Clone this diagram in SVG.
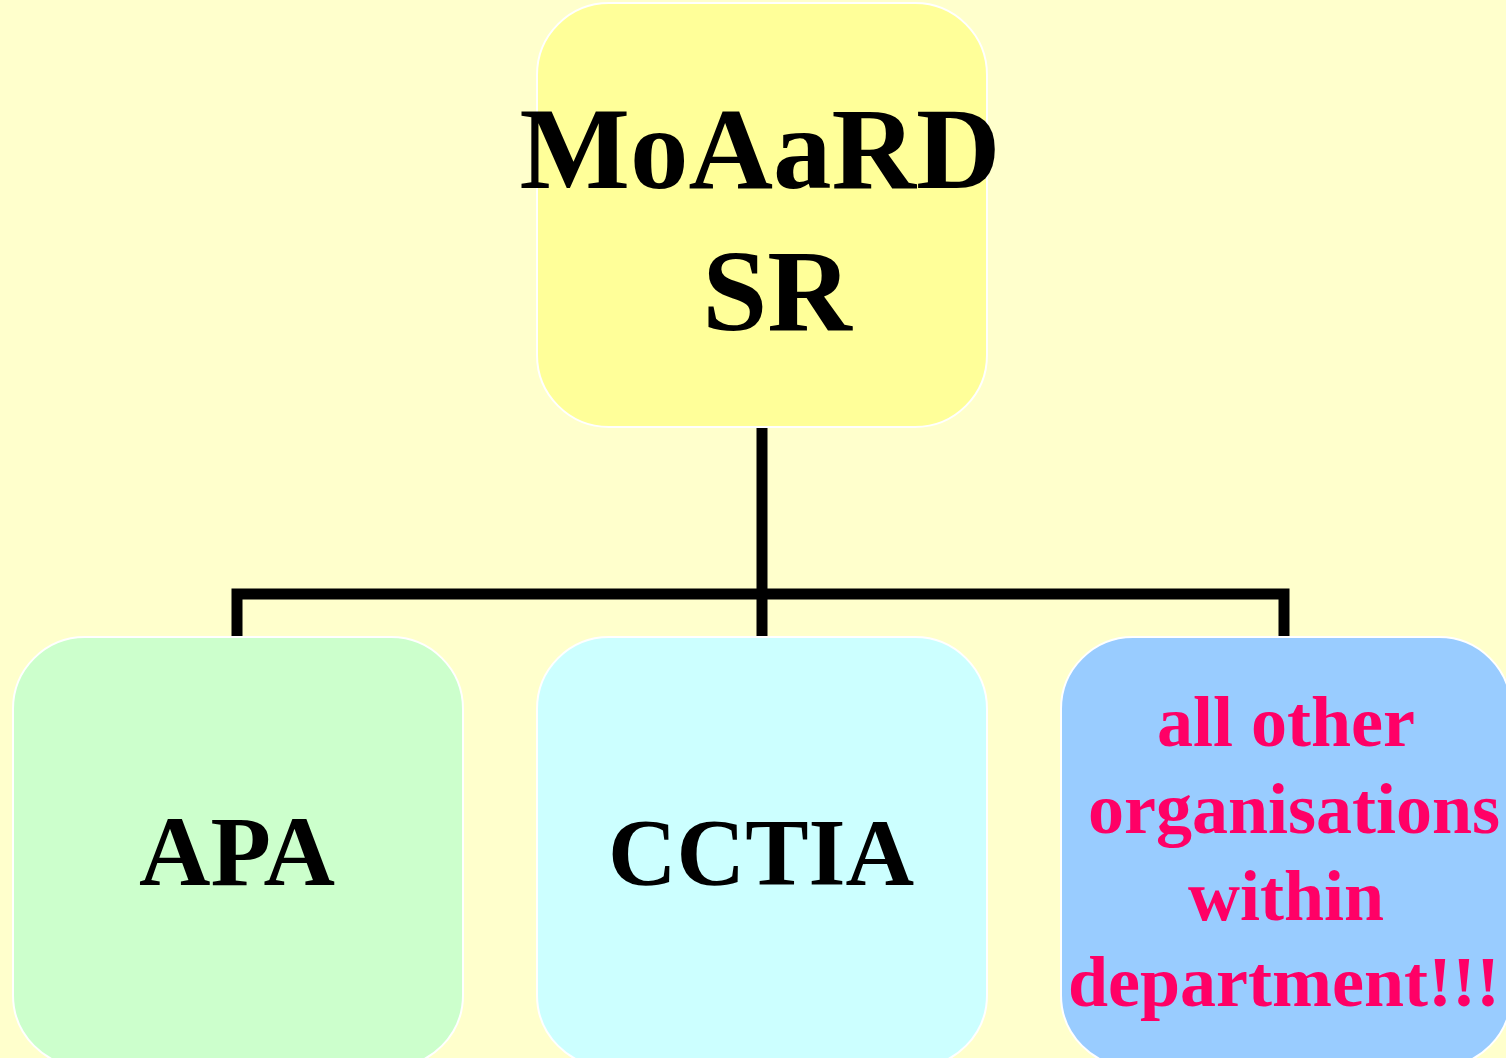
<svg xmlns="http://www.w3.org/2000/svg" width="1506" height="1058" viewBox="0 0 1506 1058">
<style>
.box{stroke:#FFFFFF;stroke-width:2}
.t{font-family:"Liberation Serif","Times New Roman",serif;font-weight:bold;text-anchor:middle}
.blk{fill:#000000}
.pink{fill:#FF0066;font-size:72px}
.conn{fill:none;stroke:#000000;stroke-width:11;stroke-linecap:butt;stroke-linejoin:miter}
</style>
<rect x="0" y="0" width="1506" height="1058" fill="#FFFFCC"/>
<g id="connectors">
<path class="conn" d="M762 428 V636"/>
<path class="conn" d="M237 636 V594 H1284 V636"/>
</g>
<g id="node-moaard">
<rect class="box" x="537" y="3" width="450" height="424" rx="72" ry="72" fill="#FFFF99"/>
<text class="t blk" x="760" y="188" font-size="117">MoAaRD</text>
<text class="t blk" x="777" y="330" font-size="117">SR</text>
</g>
<g id="node-apa">
<rect class="box" x="13" y="637" width="450" height="430" rx="72" ry="72" fill="#CCFFCC"/>
<text class="t blk" x="237" y="885" font-size="99">APA</text>
</g>
<g id="node-cctia">
<rect class="box" x="537" y="637" width="450" height="430" rx="72" ry="72" fill="#CCFFFF"/>
<text class="t blk" x="761" y="885" font-size="95">CCTIA</text>
</g>
<g id="node-other">
<rect class="box" x="1061" y="637" width="450" height="430" rx="72" ry="72" fill="#99CCFF"/>
<text class="t pink" x="1286" y="746">all other</text>
<text class="t pink" x="1294" y="833">organisations</text>
<text class="t pink" x="1286" y="920">within</text>
<text class="t pink" x="1284" y="1006">department!!!</text>
</g>
</svg>
